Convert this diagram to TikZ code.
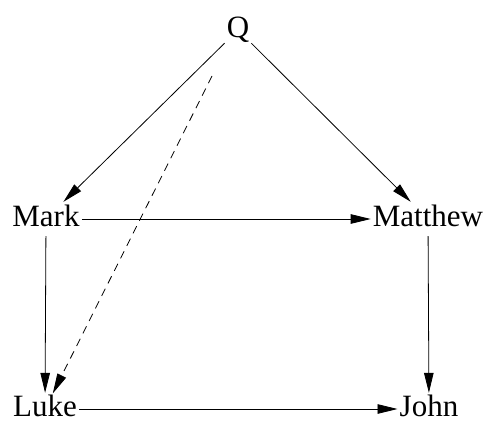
\documentclass[tikz,border=0pt]{standalone}
\usepackage{fontspec}
\setmainfont{Liberation Serif}
\usetikzlibrary{arrows.meta}
\begin{document}
\begin{tikzpicture}[x=1pt,y=-1pt,
  lbl/.style={anchor=base,inner xsep=2pt,inner ysep=5pt,text height=19pt,text depth=5pt,font=\fontsize{31}{36}\selectfont},
  lblb/.style={lbl,inner ysep=3pt,text height=14pt,text depth=0pt},
  arr/.style={line width=0.8pt,-{Triangle[length=20pt,width=9.5pt]}},
  dsh/.style={arr,dash pattern=on 8pt off 6pt}]
\useasboundingbox (0,0) rectangle (486,423);
\node[lbl] (Q) at (238,37) {Q};
\node[lbl] (Mark) at (46,226) {Mark};
\node[lbl] (Matthew) at (428,226) {Matthew};
\node[lblb] (Luke) at (45,416) {Luke};
\node[lblb] (John) at (429,416) {John};
\coordinate (d) at (212,76);
\draw[arr] (Q) -- (Mark);
\draw[arr] (Q) -- (Matthew);
\draw[arr] (Mark) -- (Matthew);
\draw[arr,shorten >=6pt] (Mark) -- (Luke);
\draw[arr,shorten >=6pt] (Matthew) -- (John);
\draw[arr] (Luke) -- (John);
\draw[dsh,shorten >=6pt] (d) -- (Luke);
\end{tikzpicture}
\end{document}
